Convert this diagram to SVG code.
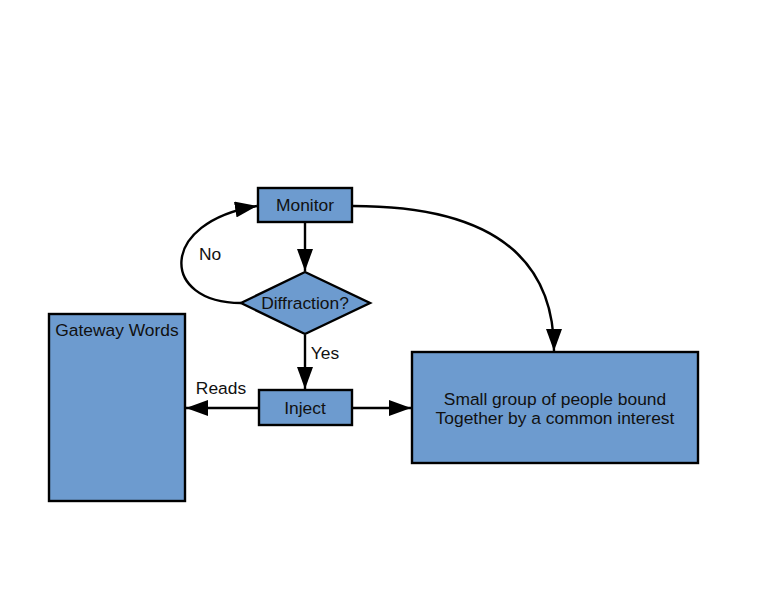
<svg xmlns="http://www.w3.org/2000/svg" width="768" height="593" viewBox="0 0 768 593">
  <defs>
    <marker id="arrow" viewBox="0 0 22 16" refX="22" refY="8" markerWidth="22" markerHeight="16" markerUnits="userSpaceOnUse" orient="auto">
      <path d="M0,0 L22,8 L0,16 Z" fill="#000"/>
    </marker>
  </defs>
  <style>
    .box { fill: #6d9bcf; stroke: #000; stroke-width: 2.4; }
    .label { font-family: "Liberation Sans", Arial, sans-serif; font-size: 17.4px; fill: #111; text-anchor: middle; }
    .edge { fill: none; stroke: #000; stroke-width: 2.4; marker-end: url(#arrow); }
  </style>
  <rect width="768" height="593" fill="#fff"/>

  <g id="connectors">
    <path class="edge" d="M305,223 L305,271"/>
    <path class="edge" d="M305,335 L305,389"/>
    <path class="edge" d="M259,408 L186,408"/>
    <path class="edge" d="M352,408 L411,408"/>
    <path class="edge" d="M353,206 C480,206 554,250 554,351"/>
    <path class="edge" d="M241,303 C160,303 158,222 257,206"/>
    <text class="label" x="210" y="260">No</text>
    <text class="label" x="325" y="359">Yes</text>
    <text class="label" x="221" y="394">Reads</text>
  </g>

  <g id="monitor">
    <rect class="box" x="258" y="188" width="94" height="34"/>
    <text class="label" x="305" y="211">Monitor</text>
  </g>

  <g id="diffraction">
    <polygon class="box" points="305,272 370,303 305,334 241,303"/>
    <text class="label" x="305" y="309">Diffraction?</text>
  </g>

  <g id="inject">
    <rect class="box" x="259" y="390" width="93" height="35"/>
    <text class="label" x="305" y="414">Inject</text>
  </g>

  <g id="gateway">
    <rect class="box" x="49" y="314" width="136" height="187"/>
    <text class="label" x="117" y="336">Gateway Words</text>
  </g>

  <g id="group">
    <rect class="box" x="412" y="352" width="286" height="111"/>
    <text class="label" x="555" y="405">Small group of people bound</text>
    <text class="label" x="555" y="424">Together by a common interest</text>
  </g>
</svg>
